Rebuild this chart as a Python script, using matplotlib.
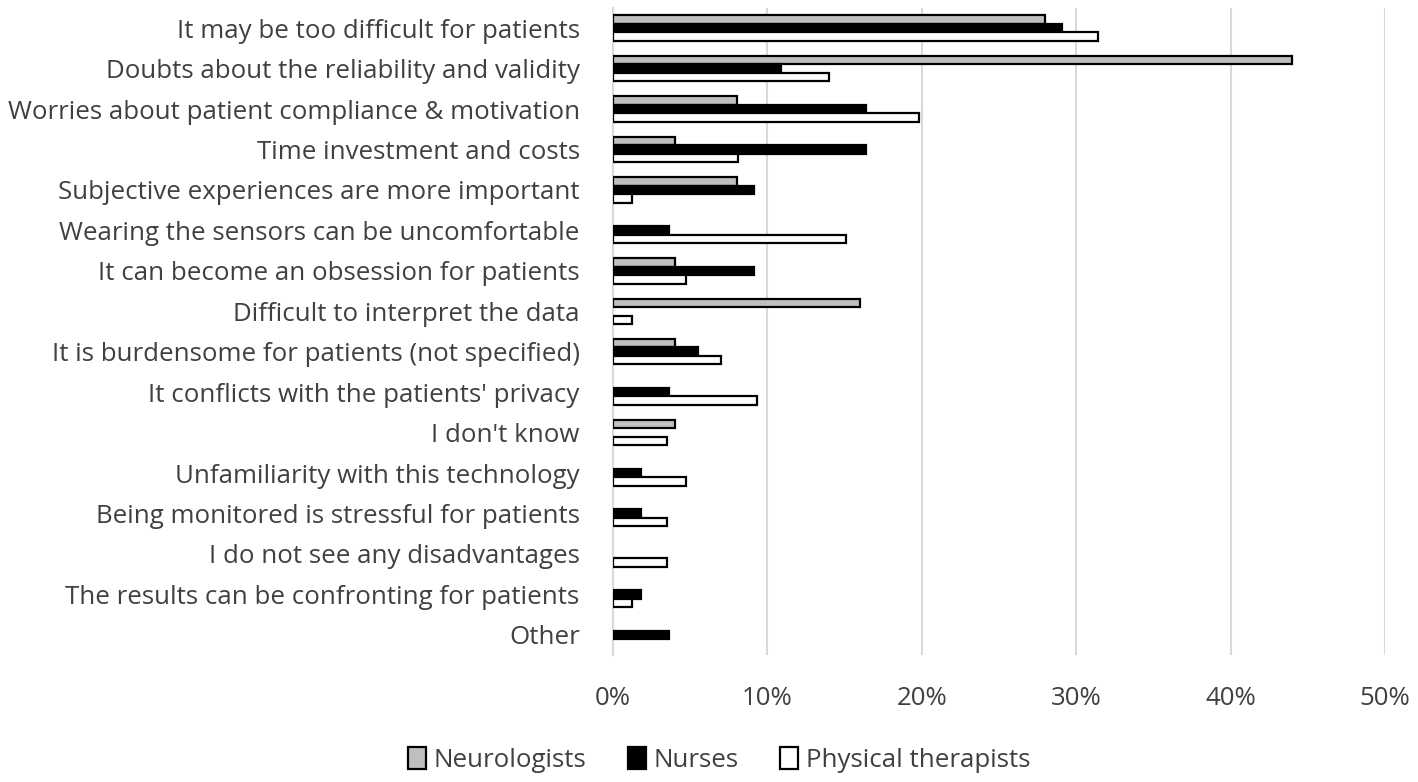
import numpy as np
import matplotlib
matplotlib.use("Agg")
import matplotlib.pyplot as plt
from matplotlib.ticker import PercentFormatter

plt.rcParams["font.family"] = ["Open Sans", "DejaVu Sans"]

categories = [
    "It may be too difficult for patients",
    "Doubts about the reliability and validity",
    "Worries about patient compliance & motivation",
    "Time investment and costs",
    "Subjective experiences are more important",
    "Wearing the sensors can be uncomfortable",
    "It can become an obsession for patients",
    "Difficult to interpret the data",
    "It is burdensome for patients (not specified)",
    "It conflicts with the patients' privacy",
    "I don't know",
    "Unfamiliarity with this technology",
    "Being monitored is stressful for patients",
    "I do not see any disadvantages",
    "The results can be confronting for patients",
    "Other",
]
neurologists = [28.0, 44.0, 8.0, 4.0, 8.0, 0, 4.0, 16.0, 4.0, 0, 4.0, 0, 0, 0, 0, 0]
nurses = [29.1, 10.9, 16.4, 16.4, 9.1, 3.6, 9.1, 0, 5.5, 3.6, 0, 1.8, 1.8, 0, 1.8, 3.6]
physio = [31.4, 14.0, 19.8, 8.1, 1.2, 15.1, 4.7, 1.2, 7.0, 9.3, 3.5, 4.7, 3.5, 3.5, 1.2, 0]

TXT = "#404040"
FS = 18.6

fig = plt.figure(figsize=(14.18, 7.82), dpi=100)
ax = fig.add_axes([613 / 1418, 1 - 655 / 782, (1385 - 613) / 1418, (655 - 8) / 782])

y = np.arange(len(categories))
h = 0.21
series = [(neurologists, "#bfbfbf", "Neurologists", -h),
          (nurses, "black", "Nurses", 0),
          (physio, "white", "Physical therapists", h)]
for vals, col, lab, off in series:
    v = np.array(vals, dtype=float)
    mask = v > 0
    ax.barh(y[mask] + off, v[mask], height=h, color=col, edgecolor="black",
            linewidth=1.6, label=lab, zorder=3)

ax.set_ylim(len(categories) - 0.5, -0.5)
ax.set_xlim(0, 50)
ax.set_xticks(np.arange(0, 51, 10))
ax.xaxis.set_major_formatter(PercentFormatter(decimals=0))
ax.set_yticks(y)
ax.set_yticklabels(categories)
ax.grid(axis="x", color="#d9d9d9", lw=1.5, zorder=0)
for s in ["top", "right", "bottom"]:
    ax.spines[s].set_visible(False)
ax.spines["left"].set_color("#d9d9d9")
ax.spines["left"].set_linewidth(1.5)
ax.tick_params(axis="both", length=0, labelsize=FS, labelcolor=TXT)
ax.tick_params(axis="y", pad=24)
ax.tick_params(axis="x", pad=22)

handles, labels = ax.get_legend_handles_labels()
fig.legend(handles, labels, loc="center", bbox_to_anchor=(0.507, 1 - 760 / 782),
           ncol=3, frameon=False, fontsize=FS, labelcolor=TXT,
           handlelength=0.7, handleheight=0.9, handletextpad=0.3, columnspacing=1.6)

fig.savefig("out.png", dpi=100)
